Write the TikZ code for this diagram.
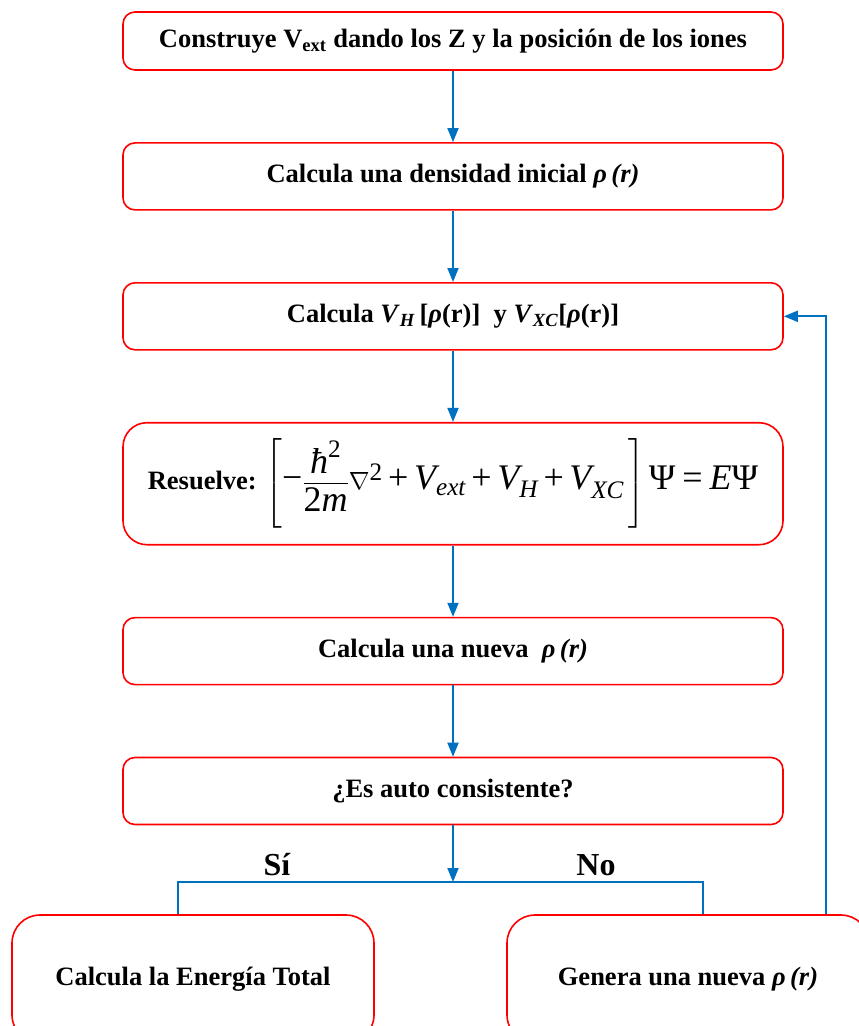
\documentclass[tikz,border=0pt]{standalone}
\usepackage{amsmath}
\usepackage{fontspec}
\setmainfont{Liberation Serif}
\usetikzlibrary{arrows.meta, positioning}
\definecolor{boxred}{RGB}{255,0,0}
\definecolor{lineblue}{RGB}{0,112,192}
\newcommand{\mv}[1]{\text{\mdseries\itshape #1}}
\newcommand{\mt}[1]{\text{\mdseries #1}}
\newcommand{\pl}{\mathbin{\mt{+}}}

\begin{document}
\begin{tikzpicture}[
x=1pt, y=-1pt,
node distance=71.3pt,
box/.style={draw=boxred, line width=1.6pt, rectangle,
rounded corners=12pt,
minimum width=660pt,
minimum height=67pt,
align=center,
font=\fontsize{26.5}{30}\selectfont\bfseries},
bigbox/.style={box, minimum width=362pt, minimum height=128pt, rounded corners=28pt},
label/.style={font=\fontsize{32}{36}\selectfont\bfseries},
line/.style={draw=lineblue, line width=1.8pt},
arrow/.style={line, -{Triangle[length=14pt,width=11pt]}, color=lineblue}
]

\useasboundingbox (0,0) rectangle (859,1026);
\clip (0,0) rectangle (859,1026);

\node[box, minimum height=58pt] (vext) at (453,41) {Construye V\textsubscript{ext} dando los Z y la posición de los iones};
\node[box, below=of vext] (rho0) {Calcula una densidad inicial \textit{ρ\,(r)}};
\node[box, below=of rho0] (vhxc) {Calcula \textit{V}\textsubscript{\textit{H}}\,[\textit{ρ}(r)]~~y \textit{V}\textsubscript{\textit{XC}}[\textit{ρ}(r)]};
\node[box, below=of vhxc, minimum height=122pt, rounded corners=24pt] (ks) {Resuelve: {\fontsize{36}{40}\selectfont $\left[\mt{−}\dfrac{\mv{ħ}^{\mt{2}}}{\mt{2}\mv{m}}\nabla^{\mt{2}}\pl\mv{V}_{\mv{ext}}\pl\mv{V}_{\mv{H}}\pl\mv{V}_{\mv{XC}}\,\right]\mt{Ψ}\mathrel{\mt{=}}\mv{E}\mt{Ψ}$}};
\node[box, below=of ks] (rho1) {Calcula una nueva~ \textit{ρ\,(r)}};
\node[box, below=of rho1] (consist) {¿Es auto consistente?};

\node[bigbox] (etotal) at (193,979) {Calcula la Energía Total};
\node[bigbox] (rhonew) at (688,979) {Genera una nueva \textit{ρ\,(r)}};

\node[label] (si) at (277,865) {Sí};
\node[label] (no) at (596,865) {No};

\coordinate (split) at (453,882);

\draw[arrow] (vext) -- (rho0);
\draw[arrow] (rho0) -- (vhxc);
\draw[arrow] (vhxc) -- (ks);
\draw[arrow] (ks) -- (rho1);
\draw[arrow] (rho1) -- (consist);
\draw[arrow] (consist) -- (split);
\draw[line] ([xshift=-15pt]etotal.north) |- (split) -| ([xshift=15pt]rhonew.north);
\draw[arrow] ([xshift=138pt]rhonew.north) |- (vhxc);

\end{tikzpicture}
\end{document}
